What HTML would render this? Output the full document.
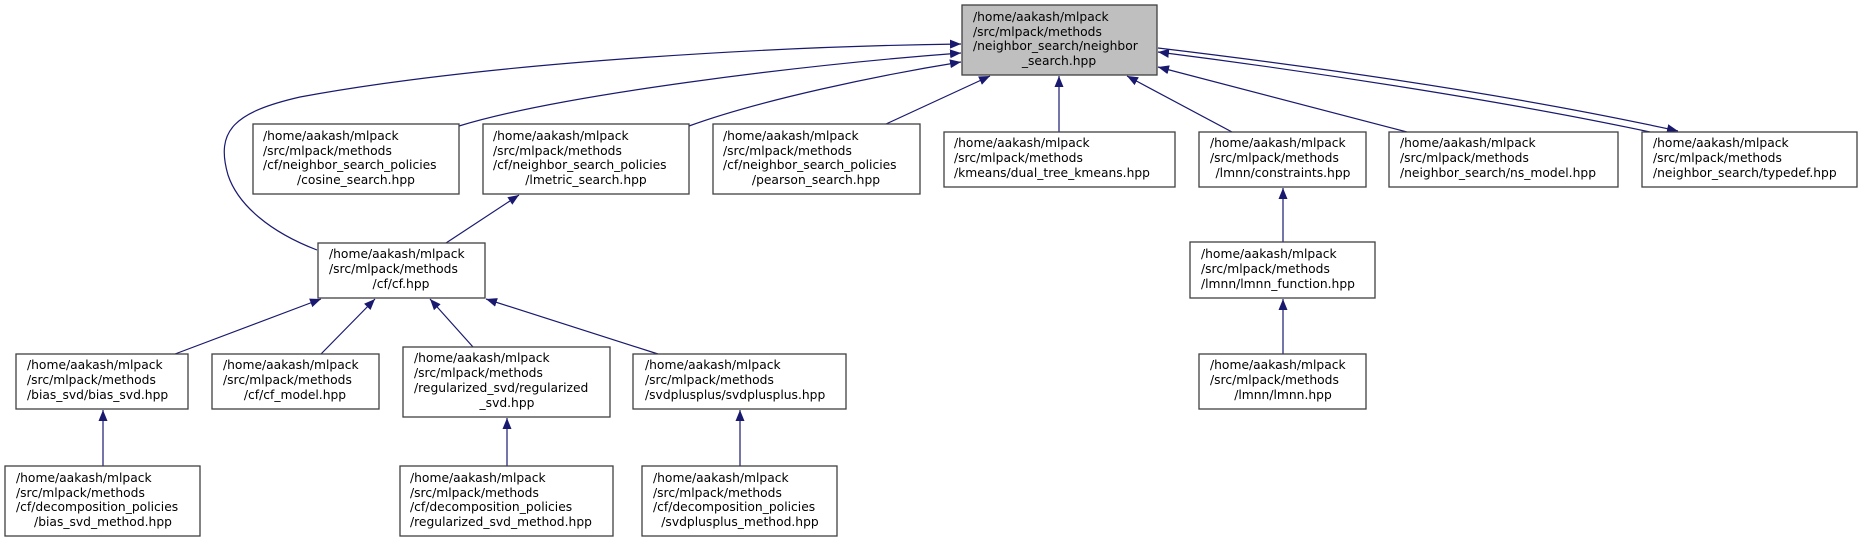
<!DOCTYPE html>
<html><head><meta charset="utf-8"><style>
html,body{margin:0;padding:0;background:#fff;}
svg{display:block;}
text{font-family:"DejaVu Sans","Liberation Sans",sans-serif;font-size:12.3px;fill:#000;}
rect{stroke:#404040;stroke-width:1.3;fill:#fff;}
.e{fill:none;stroke:#191970;stroke-width:1.2;}
</style></head><body>
<svg width="1862" height="541" viewBox="0 0 1862 541" xmlns="http://www.w3.org/2000/svg">
<defs><marker id="a" markerWidth="12" markerHeight="10" refX="11" refY="5" orient="auto" markerUnits="userSpaceOnUse"><path d="M0,0.5 L11,5 L0,9.5z" fill="#191970"/></marker></defs>

<!-- edges -->
<path class="e" marker-end="url(#a)" d="M317,250 C270,232 238,205 228,175 C215,130 235,112 300,97 C500,60 800,46 961,44"/>
<path class="e" marker-end="url(#a)" d="M459,126 C560,95 800,65 961,53"/>
<path class="e" marker-end="url(#a)" d="M689,126 C760,100 880,75 961,62"/>
<path class="e" marker-end="url(#a)" d="M886,124 L990,76"/>
<path class="e" marker-end="url(#a)" d="M1059,132 L1059,76"/>
<path class="e" marker-end="url(#a)" d="M1232,132 L1127,76"/>
<path class="e" marker-end="url(#a)" d="M1407,132 L1158,67"/>
<path class="e" marker-end="url(#a)" d="M1650,132 C1500,100 1300,70 1158,52"/>
<path class="e" marker-end="url(#a)" d="M1158,48 C1300,65 1500,92 1678,131"/>
<path class="e" marker-end="url(#a)" d="M446,243 L519,195"/>
<path class="e" marker-end="url(#a)" d="M175,354 L321,299"/>
<path class="e" marker-end="url(#a)" d="M321,354 L375,299"/>
<path class="e" marker-end="url(#a)" d="M473,347 L430,299"/>
<path class="e" marker-end="url(#a)" d="M658,354 L486,299"/>
<path class="e" marker-end="url(#a)" d="M103,466 L103,410"/>
<path class="e" marker-end="url(#a)" d="M507,466 L507,418"/>
<path class="e" marker-end="url(#a)" d="M740,466 L740,410"/>
<path class="e" marker-end="url(#a)" d="M1283,242 L1283,188"/>
<path class="e" marker-end="url(#a)" d="M1283,354 L1283,299"/>

<!-- top node -->
<rect x="962" y="5" width="195" height="70" style="fill:#bfbfbf"/>
<text x="973" y="21">/home/aakash/mlpack</text>
<text x="973" y="36">/src/mlpack/methods</text>
<text x="973" y="50">/neighbor_search/neighbor</text>
<text x="1059" y="65" text-anchor="middle">_search.hpp</text>

<!-- cosine -->
<rect x="253" y="124" width="206" height="70"/>
<text x="263" y="140">/home/aakash/mlpack</text>
<text x="263" y="155">/src/mlpack/methods</text>
<text x="263" y="169">/cf/neighbor_search_policies</text>
<text x="356" y="184" text-anchor="middle">/cosine_search.hpp</text>

<!-- lmetric -->
<rect x="483" y="124" width="206" height="70"/>
<text x="493" y="140">/home/aakash/mlpack</text>
<text x="493" y="155">/src/mlpack/methods</text>
<text x="493" y="169">/cf/neighbor_search_policies</text>
<text x="586" y="184" text-anchor="middle">/lmetric_search.hpp</text>

<!-- pearson -->
<rect x="713" y="124" width="207" height="70"/>
<text x="723" y="140">/home/aakash/mlpack</text>
<text x="723" y="155">/src/mlpack/methods</text>
<text x="723" y="169">/cf/neighbor_search_policies</text>
<text x="816" y="184" text-anchor="middle">/pearson_search.hpp</text>

<!-- kmeans -->
<rect x="944" y="132" width="231" height="55"/>
<text x="954" y="147">/home/aakash/mlpack</text>
<text x="954" y="162">/src/mlpack/methods</text>
<text x="954" y="177">/kmeans/dual_tree_kmeans.hpp</text>

<!-- constraints -->
<rect x="1199" y="132" width="167" height="55"/>
<text x="1210" y="147">/home/aakash/mlpack</text>
<text x="1210" y="162">/src/mlpack/methods</text>
<text x="1283" y="177" text-anchor="middle">/lmnn/constraints.hpp</text>

<!-- ns_model -->
<rect x="1389" y="132" width="229" height="55"/>
<text x="1400" y="147">/home/aakash/mlpack</text>
<text x="1400" y="162">/src/mlpack/methods</text>
<text x="1400" y="177">/neighbor_search/ns_model.hpp</text>

<!-- typedef -->
<rect x="1642" y="132" width="215" height="55"/>
<text x="1653" y="147">/home/aakash/mlpack</text>
<text x="1653" y="162">/src/mlpack/methods</text>
<text x="1653" y="177">/neighbor_search/typedef.hpp</text>

<!-- cf -->
<rect x="318" y="243" width="167" height="55"/>
<text x="329" y="258">/home/aakash/mlpack</text>
<text x="329" y="273">/src/mlpack/methods</text>
<text x="401" y="288" text-anchor="middle">/cf/cf.hpp</text>

<!-- lmnn_function -->
<rect x="1190" y="242" width="185" height="56"/>
<text x="1201" y="258">/home/aakash/mlpack</text>
<text x="1201" y="273">/src/mlpack/methods</text>
<text x="1201" y="288">/lmnn/lmnn_function.hpp</text>

<!-- bias_svd -->
<rect x="16" y="354" width="172" height="55"/>
<text x="27" y="369">/home/aakash/mlpack</text>
<text x="27" y="384">/src/mlpack/methods</text>
<text x="27" y="399">/bias_svd/bias_svd.hpp</text>

<!-- cf_model -->
<rect x="212" y="354" width="167" height="55"/>
<text x="223" y="369">/home/aakash/mlpack</text>
<text x="223" y="384">/src/mlpack/methods</text>
<text x="295" y="399" text-anchor="middle">/cf/cf_model.hpp</text>

<!-- regularized_svd -->
<rect x="403" y="347" width="207" height="70"/>
<text x="414" y="362">/home/aakash/mlpack</text>
<text x="414" y="377">/src/mlpack/methods</text>
<text x="414" y="392">/regularized_svd/regularized</text>
<text x="507" y="407" text-anchor="middle">_svd.hpp</text>

<!-- svdplusplus -->
<rect x="633" y="354" width="213" height="55"/>
<text x="645" y="369">/home/aakash/mlpack</text>
<text x="645" y="384">/src/mlpack/methods</text>
<text x="645" y="399">/svdplusplus/svdplusplus.hpp</text>

<!-- lmnn -->
<rect x="1199" y="354" width="167" height="55"/>
<text x="1210" y="369">/home/aakash/mlpack</text>
<text x="1210" y="384">/src/mlpack/methods</text>
<text x="1283" y="399" text-anchor="middle">/lmnn/lmnn.hpp</text>

<!-- bias_svd_method -->
<rect x="5" y="466" width="195" height="70"/>
<text x="16" y="482">/home/aakash/mlpack</text>
<text x="16" y="497">/src/mlpack/methods</text>
<text x="16" y="511">/cf/decomposition_policies</text>
<text x="103" y="526" text-anchor="middle">/bias_svd_method.hpp</text>

<!-- reg_svd_method -->
<rect x="400" y="466" width="213" height="70"/>
<text x="410" y="482">/home/aakash/mlpack</text>
<text x="410" y="497">/src/mlpack/methods</text>
<text x="410" y="511">/cf/decomposition_policies</text>
<text x="410" y="526">/regularized_svd_method.hpp</text>

<!-- svdpp_method -->
<rect x="642" y="466" width="195" height="70"/>
<text x="653" y="482">/home/aakash/mlpack</text>
<text x="653" y="497">/src/mlpack/methods</text>
<text x="653" y="511">/cf/decomposition_policies</text>
<text x="740" y="526" text-anchor="middle">/svdplusplus_method.hpp</text>
</svg>
</body></html>
